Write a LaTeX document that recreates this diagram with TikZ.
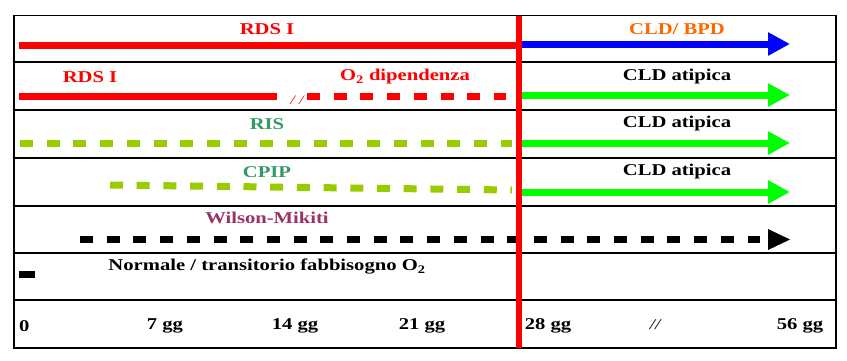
\documentclass[tikz,border=0pt]{standalone}
\usepackage{fontspec}
\setmainfont[FakeStretch=1.25]{Liberation Serif}
\usetikzlibrary{arrows.meta}
\definecolor{rdsred}{HTML}{FF0000}
\definecolor{bpdblue}{HTML}{0000FF}
\definecolor{cldgreen}{HTML}{00FF00}
\definecolor{risgreen}{HTML}{99CC00}
\definecolor{labteal}{HTML}{339966}
\definecolor{wmpurple}{HTML}{993366}
\definecolor{bpdorange}{HTML}{FF6600}
\begin{document}
\begin{tikzpicture}[x=1pt,y=-1pt,
    lbl/.style={font=\fontsize{16.5}{19}\selectfont\bfseries, inner sep=0pt},
    bar/.style={line width=7pt},
    dashbar/.style={line width=7pt, dash pattern=on 13pt off 13.7pt},
    fwd/.style={line width=7pt, -{Triangle[length=22pt,width=22pt]}}]
    \useasboundingbox (0,0) rectangle (847,360);

    % frame and rows
    \draw[line width=1.6pt] (14,15.5) rectangle (836,348);
    \draw[line width=1.8pt] (14,62) -- (836,62);
    \draw[line width=1.8pt] (14,110) -- (836,110);
    \draw[line width=1.1pt] (14,158) -- (836,158);
    \draw[line width=1.8pt] (14,206) -- (836,206);
    \draw[line width=1.8pt] (14,253) -- (836,253);
    \draw[line width=1.1pt] (14,300) -- (836,300);

    % labels
    \node[lbl, text=rdsred] (rds1) at (267,29) {RDS I};
    \node[lbl, text=bpdorange] (cldbpd) at (677,29) {CLD/ BPD};
    \node[lbl, text=rdsred] (rds2) at (90,77) {RDS I};
    \node[lbl, text=rdsred] (o2dip) at (405,77) {O\textsubscript{2} dipendenza};
    \node[lbl] (cld2) at (677,77) {CLD atipica};
    \node[lbl, text=labteal] (ris) at (267,124) {RIS};
    \node[lbl] (cld3) at (677,124) {CLD atipica};
    \node[lbl, text=labteal] (cpip) at (267,172) {CPIP};
    \node[lbl] (cld4) at (677,172) {CLD atipica};
    \node[lbl, text=wmpurple] (wilson) at (267,218) {Wilson-Mikiti};
    \node[lbl] (normale) at (267,267) {Normale / transitorio fabbisogno O\textsubscript{2}};
    \node[lbl, text=rdsred, font=\fontsize{13}{14}\selectfont\itshape] (gap) at (297,100) {/ /};

    % time axis
    \node[lbl, anchor=west] (t0) at (19,326) {0};
    \node[lbl] (t7) at (165,326) {7 gg};
    \node[lbl] (t14) at (295,326) {14 gg};
    \node[lbl] (t21) at (422,326) {21 gg};
    \node[lbl] (t28) at (548,326) {28 gg};
    \node[lbl, font=\fontsize{15}{16}\selectfont\itshape] (tbreak) at (655,325) {//};
    \node[lbl] (t56) at (800,326) {56 gg};

    % bars
    \coordinate (end) at (790,0);
    \draw[bar, rdsred] (19,45) -- (519,45);
    \draw[fwd, bpdblue] (519,44) -- (end |- 0,44);
    \draw[bar, rdsred] (19,96) -- (277,96);
    \draw[dashbar, rdsred] (307,96) -- (506,96);
    \draw[fwd, cldgreen] (519,95) -- (end |- 0,95);
    \draw[dashbar, risgreen] (20,143) -- (512,143);
    \draw[fwd, cldgreen] (519,143) -- (end |- 0,143);
    \draw[dashbar, risgreen] (110,185) -- (512,190);
    \draw[fwd, cldgreen] (519,192) -- (end |- 0,192);
    \draw[dashbar, black] (80,239) -- (760,239);
    \fill (768,229) -- (790,239.5) -- (768,250) -- cycle;
    \draw[bar] (19,274) -- (35,274);

    % 28 days
    \draw[line width=6.5pt, rdsred] (519,15.5) -- (519,348);
\end{tikzpicture}
\end{document}
